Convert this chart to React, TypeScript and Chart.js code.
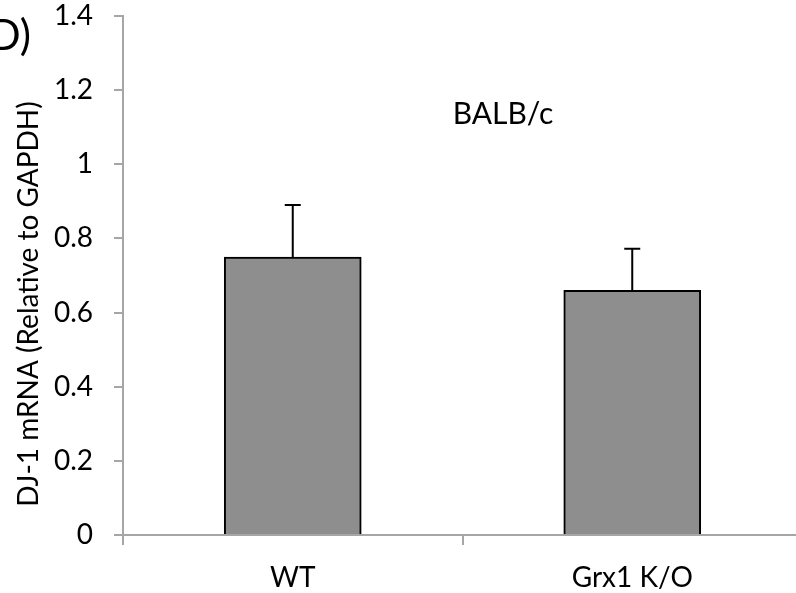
import React, { useEffect, useRef } from "react";
import { Chart, registerables } from "chart.js";

Chart.register(...registerables);

const categories = ["WT", "Grx1 K/O"];
const means = [0.75, 0.66];
const errors = [0.14, 0.112];
const yTicks = [0, 0.2, 0.4, 0.6, 0.8, 1, 1.2, 1.4];
const yTitle = "DJ-1 mRNA (Relative to GAPDH)";
const strainLabel = "BALB/c";
const panelLabel = "D)";

const FONT = "Lato";

const errorBarPlugin = {
  id: "errorBars",
  afterDatasetsDraw(chart: any) {
    const meta = chart.getDatasetMeta(0);
    const yScale = chart.scales.y;
    const ctx = chart.ctx;
    ctx.save();
    ctx.strokeStyle = "#000000";
    ctx.lineWidth = 2;
    meta.data.forEach((bar: any, i: number) => {
      const x = bar.x;
      const yTop = yScale.getPixelForValue(means[i]);
      const yErr = yScale.getPixelForValue(means[i] + errors[i]);
      ctx.beginPath();
      ctx.moveTo(x, yTop);
      ctx.lineTo(x, yErr);
      ctx.moveTo(x - 8, yErr);
      ctx.lineTo(x + 8, yErr);
      ctx.stroke();
    });
    ctx.restore();
  },
};

const textPlugin = {
  id: "extraText",
  afterDraw(chart: any) {
    const ctx = chart.ctx;
    ctx.save();
    ctx.fillStyle = "#000000";
    ctx.font = `30px ${FONT}`;
    ctx.textAlign = "center";
    ctx.textBaseline = "alphabetic";
    ctx.fillText(strainLabel, 503, 124);
    ctx.font = `42px ${FONT}`;
    ctx.textAlign = "right";
    ctx.fillText(panelLabel, 31, 50);
    // rotated y-axis title
    ctx.save();
    ctx.translate(38, 304);
    ctx.rotate(-Math.PI / 2);
    ctx.font = `28px ${FONT}`;
    ctx.textAlign = "center";
    ctx.textBaseline = "alphabetic";
    ctx.fillText(yTitle, 0, 0);
    ctx.restore();
    ctx.restore();
  },
};

export default function App() {
  const canvasRef = useRef<HTMLCanvasElement | null>(null);

  useEffect(() => {
    if (!canvasRef.current) return;
    const chart = new Chart(canvasRef.current, {
      type: "bar",
      data: {
        labels: categories,
        datasets: [
          {
            data: means,
            backgroundColor: "#8e8e8e",
            borderColor: "#000000",
            borderWidth: 2,
            barThickness: 137,
          },
        ],
      },
      options: {
        animation: false,
        responsive: true,
        maintainAspectRatio: false,
        layout: {
          autoPadding: false,
          padding: { left: 0, right: 1, top: 16, bottom: 0 },
        },
        plugins: {
          legend: { display: false },
          tooltip: { enabled: false },
        },
        scales: {
          x: {
            grid: {
              display: true,
              drawOnChartArea: false,
              drawTicks: true,
              tickLength: 10,
              color: "#a6a6a6",
              lineWidth: 2,
              offset: true,
            },
            border: { display: true, color: "#a6a6a6", width: 2 },
            ticks: {
              color: "#000000",
              font: { family: FONT, size: 28 },
              padding: 16,
              maxRotation: 0,
            },
            afterFit(scale: any) {
              scale.height = 58;
              scale.paddingLeft = 0;
              scale.paddingRight = 0;
            },
          },
          y: {
            min: 0,
            max: 1.4,
            afterBuildTicks(scale: any) {
              scale.ticks = yTicks.map((v) => ({ value: v }));
            },
            ticks: {
              color: "#000000",
              font: { family: FONT, size: 28 },
              padding: 21,
              callback: (v: any) => String(Math.round(Number(v) * 10) / 10),
            },
            grid: {
              display: true,
              drawOnChartArea: false,
              drawTicks: true,
              tickLength: 9,
              color: "#a6a6a6",
              lineWidth: 2,
            },
            border: { display: true, color: "#a6a6a6", width: 2 },
            title: { display: false },
            afterFit(scale: any) {
              scale.width = 123;
              scale.paddingTop = 0;
              scale.paddingBottom = 0;
            },
          },
        },
      },
      plugins: [errorBarPlugin, textPlugin],
    });
    return () => chart.destroy();
  }, []);

  return (
    <div
      style={{
        position: "fixed",
        left: 0,
        top: 0,
        width: 796,
        height: 593,
        overflow: "hidden",
        background: "#ffffff",
      }}
    >
      <div style={{ width: 803, height: 593, position: "relative" }}>
        <canvas ref={canvasRef} />
      </div>
    </div>
  );
}
